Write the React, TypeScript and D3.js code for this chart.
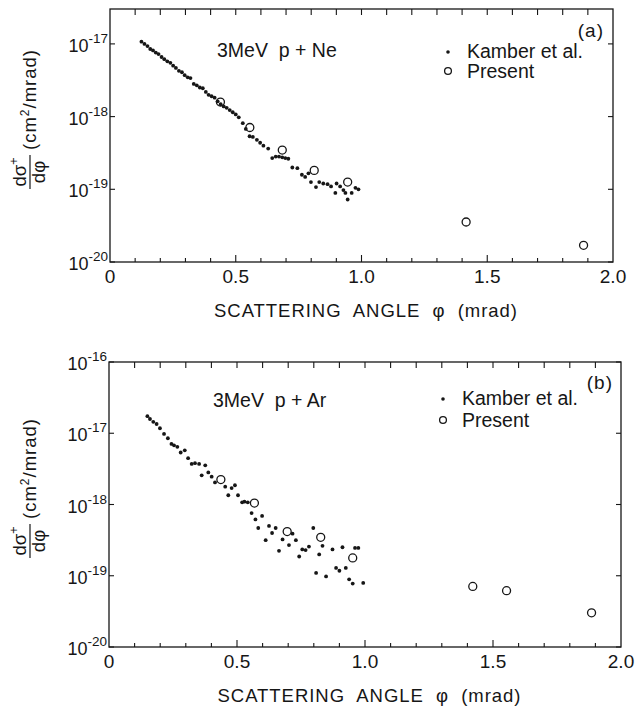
import * as d3 from "d3";

// scattering angle ticks (mrad)
const xTickLabels = ["0", "0.5", "1.0", "1.5", "2.0"];
const xTickValues = [0, 0.5, 1.0, 1.5, 2.0];

// (a) 3MeV p + Ne  -- Kamber et al. (angle mrad, log10 of dσ/dφ)
const neKamberPhi = [
  0.125, 0.137, 0.149, 0.16, 0.171, 0.182, 0.193, 0.205, 0.216, 0.228, 0.24, 0.251,
  0.262, 0.274, 0.286, 0.297, 0.309, 0.32, 0.333, 0.345, 0.357, 0.369, 0.381, 0.392,
  0.404, 0.416, 0.428, 0.44, 0.452, 0.464, 0.476, 0.488, 0.5, 0.512, 0.528, 0.54,
  0.555, 0.568, 0.584, 0.597, 0.61, 0.629, 0.645, 0.659, 0.672, 0.685, 0.697, 0.709,
  0.725, 0.745, 0.763, 0.776, 0.789, 0.799, 0.819, 0.832, 0.848, 0.865, 0.879, 0.896,
  0.901, 0.915, 0.928, 0.936, 0.945, 0.961, 0.976, 0.988,
];
const neKamberLog = [
  -16.97, -17.0, -17.03, -17.07, -17.09, -17.12, -17.14, -17.18, -17.21, -17.24, -17.26, -17.3,
  -17.33, -17.37, -17.39, -17.43, -17.46, -17.47, -17.55, -17.57, -17.6, -17.61, -17.66, -17.7,
  -17.72, -17.74, -17.79, -17.83, -17.86, -17.88, -17.91, -17.94, -17.97, -18.01, -18.09, -18.17,
  -18.27, -18.28, -18.32, -18.36, -18.4, -18.44, -18.57, -18.55, -18.55, -18.56, -18.57, -18.58,
  -18.7, -18.71, -18.8, -18.83, -18.78, -18.9, -18.97, -18.9, -18.92, -18.93, -18.96, -19.05,
  -18.92, -18.96, -19.01, -19.05, -19.14, -19.05, -18.98, -19.0,
];
// (a) Present
const nePresentPhi = [0.439, 0.556, 0.685, 0.812, 0.945, 1.416, 1.883];
const nePresentLog = [-17.8, -18.15, -18.46, -18.74, -18.9, -19.45, -19.77];

// (b) 3MeV p + Ar  -- Kamber et al.
const arKamberPhi = [
  0.15, 0.16, 0.173, 0.186, 0.199, 0.215, 0.23, 0.244, 0.254, 0.267, 0.28, 0.296,
  0.309, 0.323, 0.336, 0.352, 0.362, 0.376, 0.388, 0.401, 0.414, 0.454, 0.466, 0.479,
  0.492, 0.504, 0.52, 0.529, 0.542, 0.557, 0.572, 0.583, 0.598, 0.612, 0.625, 0.637,
  0.651, 0.664, 0.678, 0.703, 0.717, 0.73, 0.743, 0.755, 0.768, 0.781, 0.798, 0.809,
  0.821, 0.834, 0.848, 0.873, 0.887, 0.9, 0.912, 0.925, 0.938, 0.952, 0.961, 0.974, 0.993,
];
const arKamberLog = [
  -16.76, -16.8, -16.84, -16.87, -16.93, -17.01, -17.07, -17.15, -17.17, -17.19, -17.27, -17.24,
  -17.35, -17.43, -17.42, -17.43, -17.59, -17.45, -17.55, -17.61, -17.69, -17.75, -17.87, -17.77,
  -17.73, -17.87, -17.97, -17.96, -17.97, -18.12, -18.21, -18.33, -18.16, -18.5, -18.3, -18.4,
  -18.33, -18.65, -18.49, -18.57, -18.41, -18.5, -18.73, -18.63, -18.64, -18.59, -18.33, -18.96,
  -18.7, -18.58, -19.01, -18.63, -18.89, -18.93, -18.6, -18.89, -19.05, -19.11, -18.61, -18.61, -19.1,
];
// (b) Present
const arPresentPhi = [0.437, 0.568, 0.696, 0.827, 0.952, 1.421, 1.553, 1.885];
const arPresentLog = [-17.65, -17.98, -18.38, -18.46, -18.75, -19.15, -19.21, -19.52];

const FONT = "'Liberation Sans', Arial, Helvetica, sans-serif";
const INK = "#161616";

const Panel = ({ box, yMaxExp, yExps, title, tag, legend, kPhi, kLog, pPhi, pLog, labelY }) => {
  const x = d3.scaleLinear().domain([0, 2]).range([box.left, box.right]);
  const y = d3.scaleLog().domain([1e-20, Math.pow(10, yMaxExp)]).range([box.bottom, box.top]);
  const minor = d3.range(1, 20).map((i) => i / 10);
  return (
    <g fontFamily={FONT} fill={INK}>
      <rect x={box.left} y={box.top} width={box.right - box.left} height={box.bottom - box.top}
        fill="none" stroke={INK} strokeWidth={1.3} />
      {minor.map((v) => (
        <g key={"t" + v} stroke={INK} strokeWidth={1.1}>
          <line x1={x(v)} x2={x(v)} y1={box.top} y2={box.top + 6} />
          <line x1={x(v)} x2={x(v)} y1={box.bottom} y2={box.bottom - (Math.abs(v * 2 - Math.round(v * 2)) < 1e-6 ? 7 : 4)} />
        </g>
      ))}
      {yExps.map((e) => (
        <g key={"y" + e}>
          <line x1={box.left} x2={box.left + 5} y1={y(Math.pow(10, e))} y2={y(Math.pow(10, e))} stroke={INK} strokeWidth={1.1} />
          <line x1={box.right} x2={box.right - 5} y1={y(Math.pow(10, e))} y2={y(Math.pow(10, e))} stroke={INK} strokeWidth={1.1} />
          <text x={box.left - 2} y={y(Math.pow(10, e)) + 8} textAnchor="end" fontSize={18}>
            10<tspan dy={-9} fontSize={13.5}>{"-" + Math.abs(e)}</tspan>
          </text>
        </g>
      ))}
      {xTickValues.map((v, i) => (
        <text key={"x" + v} x={x(v)} y={box.bottom + 21} textAnchor="middle" fontSize={19}>{xTickLabels[i]}</text>
      ))}
      <text x={(box.left + box.right) / 2 + 4} y={box.bottom + 55} textAnchor="middle" fontSize={18.5}
        textLength={303} lengthAdjust="spacing" style={{ whiteSpace: "pre" }}>
        {"SCATTERING  ANGLE  φ  (mrad)"}
      </text>
      <g transform={`translate(30,${labelY}) rotate(-90)`}>
        <text x={0} y={-4} textAnchor="middle" fontSize={18.5}>dσ<tspan dy={-8} fontSize={12.5}>+</tspan></text>
        <line x1={-17} x2={17} y1={0} y2={0} stroke={INK} strokeWidth={1.2} />
        <text x={0} y={15} textAnchor="middle" fontSize={18.5}>dφ</text>
        <text x={22} y={6} fontSize={18.5} letterSpacing={1}>(cm<tspan dy={-7} fontSize={12}>2</tspan><tspan dy={7}>/mrad)</tspan></text>
      </g>
      <text x={title.x} y={title.y} fontSize={19.5} style={{ whiteSpace: "pre" }}>{title.text}</text>
      <text x={tag.x} y={tag.y} textAnchor="end" fontSize={19} letterSpacing={1}>{tag.text}</text>
      <circle cx={legend.x} cy={legend.y1 - 6} r={1.8} fill={INK} />
      <text x={legend.x + 19} y={legend.y1} fontSize={19.5}>Kamber et al.</text>
      <circle cx={legend.x} cy={legend.y2 - 7} r={3.4} fill="none" stroke={INK} strokeWidth={1.3} />
      <text x={legend.x + 19} y={legend.y2} fontSize={19.5}>Present</text>
      {kPhi.map((p, i) => (
        <circle key={"k" + i} cx={x(p)} cy={y(Math.pow(10, kLog[i]))} r={1.9} fill={INK} />
      ))}
      {pPhi.map((p, i) => (
        <circle key={"p" + i} cx={x(p)} cy={y(Math.pow(10, pLog[i]))} r={4} fill="none" stroke={INK} strokeWidth={1.3} />
      ))}
    </g>
  );
};

export default function App() {
  return (
    <svg width={638} height={706} style={{ position: "absolute", left: 0, top: 0, background: "#fff" }}>
      <rect width={638} height={706} fill="#fff" />
      <Panel
        box={{ left: 110, right: 613, top: 9, bottom: 262 }}
        yMaxExp={-16.52}
        yExps={[-17, -18, -19, -20]}
        title={{ text: "3MeV  p + Ne", x: 217, y: 57 }}
        tag={{ text: "(a)", x: 604, y: 37 }}
        legend={{ x: 448, y1: 58, y2: 78 }}
        kPhi={neKamberPhi} kLog={neKamberLog} pPhi={nePresentPhi} pLog={nePresentLog}
        labelY={172}
      />
      <Panel
        box={{ left: 109, right: 621, top: 362, bottom: 647 }}
        yMaxExp={-16}
        yExps={[-16, -17, -18, -19, -20]}
        title={{ text: "3MeV  p + Ar", x: 213, y: 407 }}
        tag={{ text: "(b)", x: 613, y: 389 }}
        legend={{ x: 443, y1: 405, y2: 427 }}
        kPhi={arKamberPhi} kLog={arKamberLog} pPhi={arPresentPhi} pLog={arPresentLog}
        labelY={541}
      />
    </svg>
  );
}
